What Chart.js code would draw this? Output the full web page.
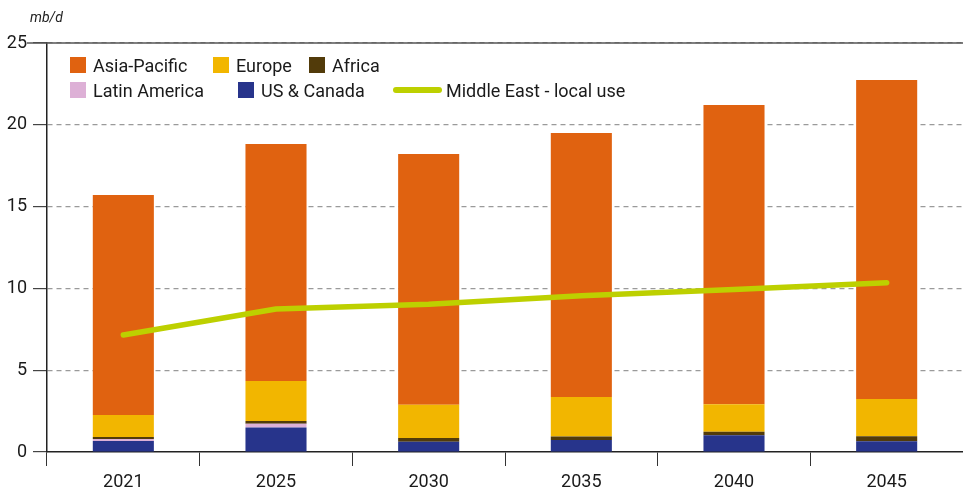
<!DOCTYPE html>
<html>
<head>
<meta charset="utf-8">
<script src="https://cdn.jsdelivr.net/npm/chart.js@4"></script>
<style>
  body { margin: 0; background: #fff; font-family: Roboto, sans-serif; }
  #wrap { position: relative; width: 963px; height: 494px; }
  #unit { position: absolute; left: 30px; top: 9px; font-size: 14px; font-style: italic; color: #222; }
  .item { position: absolute; display: flex; align-items: center; font-size: 18px; color: #1a1a1a; height: 16px; }
  .sw { width: 16px; height: 16px; margin-right: 7px; }
  .ln { width: 49px; height: 6px; border-radius: 3px; margin-right: 4px; }
</style>
</head>
<body>
<div id="wrap">
  <canvas id="chart" width="963" height="494"></canvas>
  <div id="unit">mb/d</div>
  <div id="legend"></div>
</div>
<script>
const years = ["2021", "2025", "2030", "2035", "2040", "2045"];
const usCanada = [0.67, 1.49, 0.63, 0.73, 1.02, 0.65];
const latinAmerica = [0.12, 0.24, 0, 0, 0, 0];
const africa = [0.13, 0.17, 0.23, 0.21, 0.22, 0.31];
const europe = [1.34, 2.44, 2.03, 2.42, 1.68, 2.28];
const asiaPacific = [13.45, 14.49, 15.33, 16.14, 18.29, 19.5];
const middleEastLocal = [7.15, 8.74, 9.03, 9.55, 9.94, 10.35];

const colors = {
  asia: "#e06210",
  europe: "#f2b600",
  africa: "#523b0a",
  latin: "#ddb0d6",
  us: "#27348b",
  me: "#bdd000",
};

// legend drawn as html on top of the plot
const legendItems = [
  { label: "Asia-Pacific", color: colors.asia, x: 70, y: 57 },
  { label: "Europe", color: colors.europe, x: 213, y: 57 },
  { label: "Africa", color: colors.africa, x: 309, y: 57 },
  { label: "Latin America", color: colors.latin, x: 70, y: 82 },
  { label: "US & Canada", color: colors.us, x: 238, y: 82 },
  { label: "Middle East - local use", color: colors.me, x: 393, y: 82, line: true },
];
const legendEl = document.getElementById("legend");
legendItems.forEach(function (it) {
  const d = document.createElement("div");
  d.className = "item";
  d.style.left = it.x + "px";
  d.style.top = it.y + "px";
  const s = document.createElement("span");
  s.className = it.line ? "ln" : "sw";
  s.style.background = it.color;
  d.appendChild(s);
  d.appendChild(document.createTextNode(it.label));
  legendEl.appendChild(d);
});

const topLine = {
  id: "topLine",
  afterDraw(chart) {
    const y = chart.scales.y.getPixelForValue(25);
    const c = chart.ctx;
    c.save();
    c.strokeStyle = "#555";
    c.lineWidth = 1.5;
    c.beginPath();
    c.moveTo(chart.chartArea.left - 20, y);
    c.lineTo(chart.width, y);
    c.stroke();
    c.restore();
  },
};

const bar = (label, data, color) => ({
  type: "bar",
  label: label,
  data: data,
  backgroundColor: color,
  stack: "regions",
  order: 1,
  barPercentage: 0.4,
  categoryPercentage: 1,
});

new Chart(document.getElementById("chart"), {
  data: {
    labels: years,
    datasets: [
      bar("US & Canada", usCanada, colors.us),
      bar("Latin America", latinAmerica, colors.latin),
      bar("Africa", africa, colors.africa),
      bar("Europe", europe, colors.europe),
      bar("Asia-Pacific", asiaPacific, colors.asia),
      {
        type: "line",
        label: "Middle East - local use",
        data: middleEastLocal,
        borderColor: colors.me,
        borderWidth: 5.5,
        borderCapStyle: "round",
        borderJoinStyle: "round",
        pointRadius: 0,
        stack: "line",
        order: 0,
      },
    ],
  },
  options: {
    responsive: false,
    animation: false,
    devicePixelRatio: 1,
    layout: { padding: { top: 43, right: 0, left: 0, bottom: 0 } },
    plugins: { legend: { display: false }, tooltip: { enabled: false } },
    scales: {
      x: {
        stacked: true,
        offset: true,
        afterFit: (s) => { s.height = 42; },
        grid: { display: true, drawOnChartArea: false, offset: true, tickLength: 14, color: "#333", tickColor: "#333" },
        border: { color: "#222", width: 1.5 },
        ticks: { color: "#1a1a1a", font: { family: "Roboto", size: 18 }, padding: 6 },
      },
      y: {
        stacked: true,
        min: 0,
        max: 25,
        afterFit: (s) => { s.width = 47; },
        grid: {
          tickLength: 14,
          color: (ctx) => (ctx.tick && ctx.tick.value === 0 ? "rgba(0,0,0,0)" : "#9a9a9a"),
          tickColor: "#444",
          lineWidth: 1.2,
        },
        border: { color: "#222", width: 1.5, dash: [5, 4] },
        ticks: { stepSize: 5, color: "#1a1a1a", font: { family: "Roboto", size: 18 }, padding: 6 },
      },
    },
  },
  plugins: [topLine],
});
</script>
</body>
</html>
